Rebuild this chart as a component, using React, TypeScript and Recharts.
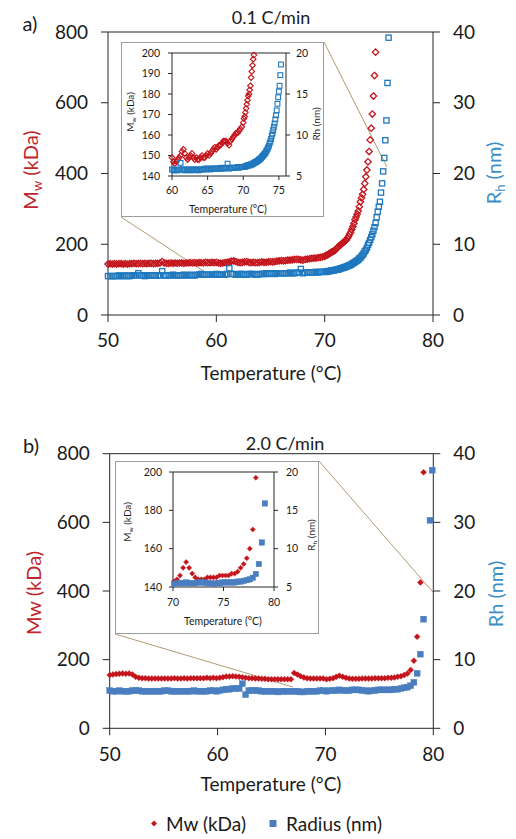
import React from "react";
import { ScatterChart, Scatter, XAxis, YAxis, ReferenceLine } from "recharts";

// ---------- data: panel a (0.1 C/min) ----------
const A_TEMP = [
  50, 50.2, 50.4, 50.6, 50.8, 51, 51.2, 51.4, 51.6, 51.8,
  52, 52.2, 52.4, 52.6, 52.8, 53, 53.2, 53.4, 53.6, 53.8,
  54, 54.2, 54.4, 54.6, 54.8, 55, 55.2, 55.4, 55.6, 55.8,
  56, 56.2, 56.4, 56.6, 56.8, 57, 57.2, 57.4, 57.6, 57.8,
  58, 58.2, 58.4, 58.6, 58.8, 59, 59.2, 59.4, 59.6, 59.8,
  60, 60.2, 60.4, 60.6, 60.8, 61, 61.2, 61.4, 61.6, 61.8,
  62, 62.2, 62.4, 62.6, 62.8, 63, 63.2, 63.4, 63.6, 63.8,
  64, 64.2, 64.4, 64.6, 64.8, 65, 65.2, 65.4, 65.6, 65.8,
  66, 66.2, 66.4, 66.6, 66.8, 67, 67.2, 67.4, 67.6, 67.8,
  68, 68.2, 68.4, 68.6, 68.8, 69, 69.2, 69.4, 69.6, 69.8,
  70,
  70.1, 70.2, 70.3, 70.4, 70.5, 70.6, 70.7, 70.8, 70.9, 71,
  71.1, 71.2, 71.3, 71.4, 71.5, 71.6, 71.7, 71.8, 71.9, 72,
  72.1, 72.2, 72.3, 72.4, 72.5, 72.6, 72.7, 72.8, 72.9, 73,
  73.1, 73.2, 73.3, 73.4, 73.5, 73.6, 73.7, 73.8, 73.9, 74,
  74.1, 74.2, 74.3, 74.4, 74.5, 74.6, 74.7, 74.8, 74.9, 75,
  75.1, 75.2, 75.3, 75.4, 75.5, 75.6, 75.7, 75.8, 75.9, 76,
];
const A_MW: (number | null)[] = [
  144, 145, 144, 145, 144, 145, 145, 144, 145, 144,
  145, 145, 146, 145, 145, 146, 145, 146, 145, 146,
  146, 145, 146, 146, 147, 151, 147, 146, 146, 147,
  146, 147, 146, 147, 147, 146, 147, 147, 148, 147,
  148, 147, 148, 148, 147, 149, 148, 148, 149, 148,
  149, 147, 146, 147, 148, 149, 150, 152, 153, 151,
  149, 148, 149, 150, 151, 149, 148, 149, 148, 148,
  149, 150, 149, 149, 150, 151, 150, 151, 152, 153,
  154, 153, 154, 155, 155, 156, 157, 157, 157, 156,
  155, 157, 158, 159, 160, 161, 161, 162, 163, 164,
  166,
  168, 169, 171, 173, 175, 177, 179, 180, 182, 184,
  188, 191, 194, 197, 199, 202, 205, 207, 210, 212,
  217, 222, 228, 234, 242, 250, 259, 269, 277, 285,
  294, 306, 320, 331, 341, 355, 372, 391, 410, 433,
  462, 495, 528, 568, 619, 677, 743, null, null, null,
  null, null, null, null, null, null, null, null, null, null,
];
const A_RH: (number | null)[] = [
  5.5, 5.5, 5.5, 5.5, 5.5, 5.6, 5.5, 5.5, 5.6, 5.5,
  5.5, 5.6, 5.6, 5.6, 5.9, 5.6, 5.6, 5.5, 5.6, 5.6,
  5.6, 5.6, 5.6, 5.6, 5.6, 6.2, 5.6, 5.6, 5.6, 5.6,
  5.7, 5.6, 5.6, 5.6, 5.6, 5.7, 5.6, 5.6, 5.7, 5.6,
  5.6, 5.7, 5.7, 5.8, 5.7, 5.7, 5.7, 5.7, 5.7, 5.7,
  5.8, 5.7, 5.7, 5.7, 5.7, 5.8, 6.6, 5.8, 5.8, 5.7,
  5.7, 5.8, 5.8, 5.7, 5.7, 5.8, 5.8, 5.8, 5.7, 5.7,
  5.8, 5.8, 5.8, 5.9, 5.8, 5.9, 5.9, 5.8, 5.9, 5.9,
  5.9, 5.9, 5.9, 5.9, 6.0, 5.9, 5.9, 6.0, 6.0, 6.5,
  5.9, 6.0, 6.0, 6.0, 6.0, 6.0, 6.1, 6.0, 6.1, 6.1,
  6.1,
  6.1, 6.1, 6.2, 6.2, 6.2, 6.3, 6.3, 6.3, 6.3, 6.4,
  6.4, 6.4, 6.5, 6.5, 6.6, 6.6, 6.7, 6.7, 6.8, 6.8,
  6.9, 7.0, 7.0, 7.1, 7.2, 7.3, 7.4, 7.5, 7.6, 7.7,
  7.8, 8.0, 8.1, 8.3, 8.5, 8.7, 9.0, 9.2, 9.5, 9.9,
  10.2, 10.6, 11.0, 11.4, 11.9, 12.4, 13.0, 13.8, 14.6, 15.3,
  16.0, 17.3, 18.6, 20.3, 22.2, 24.7, 27.5, 32.8, 39.2, null,
];

// ---------- data: panel b (2.0 C/min) ----------
const B_TEMP = [
  50, 50.3, 50.6, 50.9, 51.2, 51.5, 51.8, 52.1, 52.4, 52.7,
  53, 53.3, 53.6, 53.9, 54.2, 54.5, 54.8, 55.1, 55.4, 55.7,
  56, 56.3, 56.6, 56.9, 57.2, 57.5, 57.8, 58.1, 58.4, 58.7,
  59, 59.3, 59.6, 59.9, 60.2, 60.5, 60.8, 61.1, 61.4, 61.7,
  62, 62.3, 62.6, 62.9, 63.2, 63.5, 63.8, 64.1, 64.4, 64.7,
  65, 65.3, 65.6, 65.9, 66.2, 66.5, 66.8, 67.1, 67.4, 67.7,
  68, 68.3, 68.6, 68.9, 69.2, 69.5, 69.8, 70.1, 70.4, 70.7,
  71, 71.3, 71.6, 71.9, 72.2, 72.5, 72.8, 73.1, 73.4, 73.7,
  74, 74.3, 74.6, 74.9, 75.2, 75.5, 75.8, 76.1, 76.4, 76.7,
  77, 77.3, 77.6, 77.9, 78.2, 78.5, 78.8, 79.1, 79.4, 79.7,
  79.9,
];
const B_MW: (number | null)[] = [
  155, 157, 158, 159, 160, 159, 160, 157, 150, 147,
  146, 146, 145, 145, 145, 145, 145, 145, 145, 145,
  146, 145, 145, 146, 145, 146, 146, 146, 146, 146,
  147, 146, 147, 146, 147, 149, 151, 151, 152, 151,
  150, 149, 147, 146, 146, 145, 145, 144, 144, 143,
  143, 143, 143, 143, 143, 143, 143, 161, 157, 152,
  148, 146, 145, 145, 145, 145, 145, 143, 144, 146,
  150, 153, 150, 147, 145, 144, 144, 144, 145, 145,
  145, 145, 146, 146, 146, 146, 147, 147, 148, 150,
  152, 155, 160, 170, 197, 267, 425, 746, null, null,
  null,
];
const B_RH: (number | null)[] = [
  5.5, 5.4, 5.4, 5.5, 5.4, 5.4, 5.4, 5.5, 5.5, 5.5,
  5.4, 5.4, 5.4, 5.4, 5.4, 5.4, 5.4, 5.5, 5.5, 5.4,
  5.4, 5.4, 5.4, 5.4, 5.4, 5.4, 5.5, 5.4, 5.4, 5.4,
  5.4, 5.5, 5.5, 5.4, 5.5, 5.6, 5.7, 5.7, 5.8, 5.8,
  5.8, 6.5, 4.9, 5.5, 5.5, 5.5, 5.5, 5.4, 5.4, 5.4,
  5.4, 5.4, 5.3, 5.4, 5.4, 5.4, 5.4, 5.4, 5.4, 5.3,
  5.3, 5.4, 5.4, 5.4, 5.4, 5.5, 5.5, 5.4, 5.5, 5.5,
  5.5, 5.6, 5.5, 5.5, 5.5, 5.6, 5.6, 5.6, 5.5, 5.5,
  5.4, 5.5, 5.5, 5.6, 5.6, 5.6, 5.6, 5.6, 5.7, 5.7,
  5.8, 5.9, 6.0, 6.2, 6.7, 8.0, 10.8, 15.9, null, 30.3,
  37.6,
];

// ---------- axes ----------
const MAIN_X_TICKS = [50, 60, 70, 80];
const MAIN_MW_TICKS = [0, 200, 400, 600, 800];
const MAIN_RH_TICKS = [0, 10, 20, 30, 40];
const INSET_A_X_TICKS = [60, 65, 70, 75];
const INSET_A_MW_TICKS = [140, 150, 160, 170, 180, 190, 200];
const INSET_B_X_TICKS = [70, 75, 80];
const INSET_B_MW_TICKS = [140, 160, 180, 200];
const INSET_RH_TICKS = [5, 10, 15, 20];

// zoom connector lines (data units of the main panels)
const A_LINKS = [
  [{ x: 69.94, y: 771.7 }, { x: 75.75, y: 418.4 }],
  [{ x: 51.2, y: 277 }, { x: 58.95, y: 121.5 }],
];
const B_LINKS = [
  [{ x: 69.4, y: 778.7 }, { x: 79.96, y: 397 }],
  [{ x: 50.5, y: 274.7 }, { x: 66.99, y: 120.3 }],
];

const FONT = "Lato, 'Open Sans', sans-serif";
const RED = "#C4141C";
const BLUE_A = "#1F78BE";
const BLUE_B = "#4A7EC0";
const RED_T = "#C0252B";
const BLUE_T = "#3B8FC4";
const AXIS = "#262626";
const TEXT = "#1a1a1a";
const LINK = "#B09A72";

type Pt = { t: number; v: number };
const build = (
  ts: number[],
  vs: (number | null)[],
  xd: [number, number],
  yd: [number, number]
): Pt[] =>
  ts
    .map((t, i) => ({ t, v: vs[i] as number }))
    .filter(
      (p) => p.v != null && p.t >= xd[0] && p.t <= xd[1] && p.v >= yd[0] && p.v <= yd[1]
    );

const diamond = (color: string, r: number, filled: boolean, sw = 1) => (props: any) => {
  const { cx, cy } = props;
  if (typeof cx !== "number" || typeof cy !== "number") return <g />;
  return (
    <path
      d={`M${cx} ${cy - r}L${cx + r} ${cy}L${cx} ${cy + r}L${cx - r} ${cy}Z`}
      fill={filled ? color : "none"}
      stroke={color}
      strokeWidth={filled ? 0.4 : sw}
    />
  );
};
const square = (color: string, s: number, filled: boolean, sw = 1) => (props: any) => {
  const { cx, cy } = props;
  if (typeof cx !== "number" || typeof cy !== "number") return <g />;
  return (
    <rect
      x={cx - s / 2}
      y={cy - s / 2}
      width={s}
      height={s}
      fill={filled ? color : "none"}
      stroke={color}
      strokeWidth={filled ? 0.4 : sw}
    />
  );
};

type PanelProps = {
  w: number;
  h: number;
  top: number;
  lw: number;
  rw: number;
  xh: number;
  xDomain: [number, number];
  xTicks: number[];
  lDomain: [number, number];
  lTicks: number[];
  rDomain: [number, number];
  rTicks: number[];
  temp: number[];
  mw: (number | null)[];
  rh: (number | null)[];
  redShape: any;
  blueShape: any;
  fs: number;
  ts: number;
  xm: number;
  lm: number;
  rm: number;
  links?: { x: number; y: number }[][];
};

function Panel(p: PanelProps) {
  const tick = { fontFamily: FONT, fontSize: p.fs, fill: TEXT };
  const red = build(p.temp, p.mw, p.xDomain, p.lDomain);
  const blue = build(p.temp, p.rh, p.xDomain, p.rDomain);
  return (
    <ScatterChart
      width={p.w}
      height={p.h}
      margin={{ top: p.top, right: 0, bottom: 0, left: 0 }}
      style={{ overflow: "visible" }}
    >
      <XAxis
        type="number"
        dataKey="t"
        domain={p.xDomain}
        ticks={p.xTicks}
        interval={0}
        height={p.xh}
        tickSize={p.ts}
        tickMargin={p.xm}
        stroke={AXIS}
        tick={tick}
      />
      <YAxis
        yAxisId="l"
        orientation="left"
        type="number"
        dataKey="v"
        domain={p.lDomain}
        ticks={p.lTicks}
        interval={0}
        width={p.lw}
        tickSize={p.ts}
        tickMargin={p.lm}
        stroke={AXIS}
        tick={tick}
      />
      <YAxis
        yAxisId="r"
        orientation="right"
        type="number"
        dataKey="v"
        domain={p.rDomain}
        ticks={p.rTicks}
        interval={0}
        width={p.rw}
        tickSize={p.ts}
        tickMargin={p.rm}
        stroke={AXIS}
        tick={tick}
      />
      <ReferenceLine yAxisId="l" y={p.lDomain[1]} stroke={AXIS} />
      <Scatter
        name="Mw (kDa)"
        yAxisId="l"
        data={red}
        fill={RED}
        shape={p.redShape}
        isAnimationActive={false}
      />
      <Scatter
        name="Radius (nm)"
        yAxisId="r"
        data={blue}
        fill={BLUE_B}
        shape={p.blueShape}
        isAnimationActive={false}
      />
      {(p.links || []).map((seg, i) => (
        <ReferenceLine
          key={i}
          yAxisId="l"
          segment={seg}
          stroke={LINK}
          strokeWidth={1}
          ifOverflow="visible"
        />
      ))}
    </ScatterChart>
  );
}

const Txt = ({
  x,
  y,
  size,
  color = TEXT,
  rot = false,
  children,
}: {
  x: number;
  y: number;
  size: number;
  color?: string;
  rot?: boolean;
  children: React.ReactNode;
}) => (
  <div
    style={{
      position: "absolute",
      left: x,
      top: y,
      transform: `translate(-50%, -50%)${rot ? " rotate(-90deg)" : ""}`,
      fontFamily: FONT,
      fontSize: size,
      color,
      whiteSpace: "nowrap",
      lineHeight: 1,
    }}
  >
    {children}
  </div>
);

const Sub = ({ children }: { children: React.ReactNode }) => (
  <span style={{ fontSize: "0.65em", verticalAlign: "-0.25em", lineHeight: 1 }}>{children}</span>
);

const Abs = ({
  x,
  y,
  children,
}: {
  x: number;
  y: number;
  children: React.ReactNode;
}) => <div style={{ position: "absolute", left: x, top: y }}>{children}</div>;

export default function App() {
  return (
    <div
      style={{
        position: "absolute",
        left: 0,
        top: 0,
        width: 516,
        height: 839,
        background: "#fff",
        overflow: "hidden",
      }}
    >
      {/* ---------- panel a ---------- */}
      <Abs x={0} y={0}>
        <Panel
          w={516}
          h={400}
          top={32}
          lw={108}
          rw={83}
          xh={85}
          xDomain={[50, 80]}
          xTicks={MAIN_X_TICKS}
          lDomain={[0, 800]}
          lTicks={MAIN_MW_TICKS}
          rDomain={[0, 40]}
          rTicks={MAIN_RH_TICKS}
          temp={A_TEMP}
          mw={A_MW}
          rh={A_RH}
          redShape={diamond(RED, 3.2, false, 1.3)}
          blueShape={square(BLUE_A, 5.2, false, 1.3)}
          fs={19}
          ts={7}
          xm={12}
          lm={13}
          rm={13}
          links={A_LINKS}
        />
      </Abs>
      <Txt x={30} y={23} size={20}>a)</Txt>
      <Txt x={271} y={17} size={18}>0.1 C/min</Txt>
      <Txt x={32} y={170} size={20} rot color={RED_T}>
        M<Sub>w</Sub> (kDa)
      </Txt>
      <Txt x={495} y={173} size={20} rot color={BLUE_T}>
        R<Sub>h</Sub> (nm)
      </Txt>
      <Txt x={271} y={372} size={19}>Temperature (°C)</Txt>

      {/* inset a */}
      <div
        style={{
          position: "absolute",
          left: 121,
          top: 42,
          width: 203,
          height: 175,
          boxSizing: "border-box",
          border: "1px solid #9c9c9c",
          background: "#fff",
        }}
      />
      <Abs x={121} y={42}>
        <Panel
          w={203}
          h={175}
          top={11}
          lw={51}
          rw={38}
          xh={41}
          xDomain={[60, 76]}
          xTicks={INSET_A_X_TICKS}
          lDomain={[140, 200]}
          lTicks={INSET_A_MW_TICKS}
          rDomain={[5, 20]}
          rTicks={INSET_RH_TICKS}
          temp={A_TEMP}
          mw={A_MW}
          rh={A_RH}
          redShape={diamond(RED, 2.8, false, 1.1)}
          blueShape={square(BLUE_A, 4.8, false, 1.1)}
          fs={10.5}
          ts={4}
          xm={7}
          lm={8}
          rm={6}
        />
      </Abs>
      <Txt x={131} y={112} size={10} rot>
        M<Sub>w</Sub> (kDa)
      </Txt>
      <Txt x={316} y={124} size={10} rot>
        Rh (nm)
      </Txt>
      <Txt x={228} y={209} size={10.5}>Temperature (°C)</Txt>

      {/* ---------- panel b ---------- */}
      <Abs x={0} y={410}>
        <Panel
          w={516}
          h={390}
          top={43.7}
          lw={109.7}
          rw={82.7}
          xh={71.7}
          xDomain={[50, 80]}
          xTicks={MAIN_X_TICKS}
          lDomain={[0, 800]}
          lTicks={MAIN_MW_TICKS}
          rDomain={[0, 40]}
          rTicks={MAIN_RH_TICKS}
          temp={B_TEMP}
          mw={B_MW}
          rh={B_RH}
          redShape={diamond(RED, 3, true)}
          blueShape={square(BLUE_B, 6, true)}
          fs={19}
          ts={7}
          xm={12}
          lm={13}
          rm={13}
          links={B_LINKS}
        />
      </Abs>
      <Txt x={31} y={445} size={20}>b)</Txt>
      <Txt x={285} y={443} size={18}>2.0 C/min</Txt>
      <Txt x={33} y={593} size={20} rot color={RED_T}>
        Mw (kDa)
      </Txt>
      <Txt x={495} y={594} size={20} rot color={BLUE_T}>
        Rh (nm)
      </Txt>
      <Txt x={271} y={783} size={19}>Temperature (°C)</Txt>

      {/* inset b */}
      <div
        style={{
          position: "absolute",
          left: 115,
          top: 461,
          width: 204,
          height: 173,
          boxSizing: "border-box",
          border: "1px solid #9c9c9c",
          background: "#fff",
        }}
      />
      <Abs x={115} y={461}>
        <Panel
          w={204}
          h={173}
          top={11}
          lw={58}
          rw={45}
          xh={47}
          xDomain={[70, 80]}
          xTicks={INSET_B_X_TICKS}
          lDomain={[140, 200]}
          lTicks={INSET_B_MW_TICKS}
          rDomain={[5, 20]}
          rTicks={INSET_RH_TICKS}
          temp={B_TEMP}
          mw={B_MW}
          rh={B_RH}
          redShape={diamond(RED, 2.6, true)}
          blueShape={square(BLUE_B, 5.5, true)}
          fs={10.5}
          ts={4}
          xm={8}
          lm={7}
          rm={8}
        />
      </Abs>
      <Txt x={128} y={522} size={10} rot>
        M<Sub>w</Sub> (kDa)
      </Txt>
      <Txt x={312} y={535} size={10} rot>
        R<Sub>h</Sub> (nm)
      </Txt>
      <Txt x={223} y={621} size={10.5}>Temperature (°C)</Txt>

      {/* legend */}
      <div
        style={{
          position: "absolute",
          left: 148,
          top: 823,
          transform: "translateY(-50%)",
          display: "flex",
          alignItems: "center",
          fontFamily: FONT,
          fontSize: 19,
          color: TEXT,
          whiteSpace: "nowrap",
          lineHeight: 1,
        }}
      >
        <svg width={12} height={12} style={{ marginRight: 6 }}>
          <path d="M6 3L9 6L6 9L3 6Z" fill={RED} />
        </svg>
        <span>Mw (kDa)</span>
        <svg width={14} height={14} style={{ marginLeft: 20, marginRight: 6 }}>
          <rect x={3.5} y={3.5} width={7} height={7} fill={BLUE_B} />
        </svg>
        <span>Radius (nm)</span>
      </div>
    </div>
  );
}
